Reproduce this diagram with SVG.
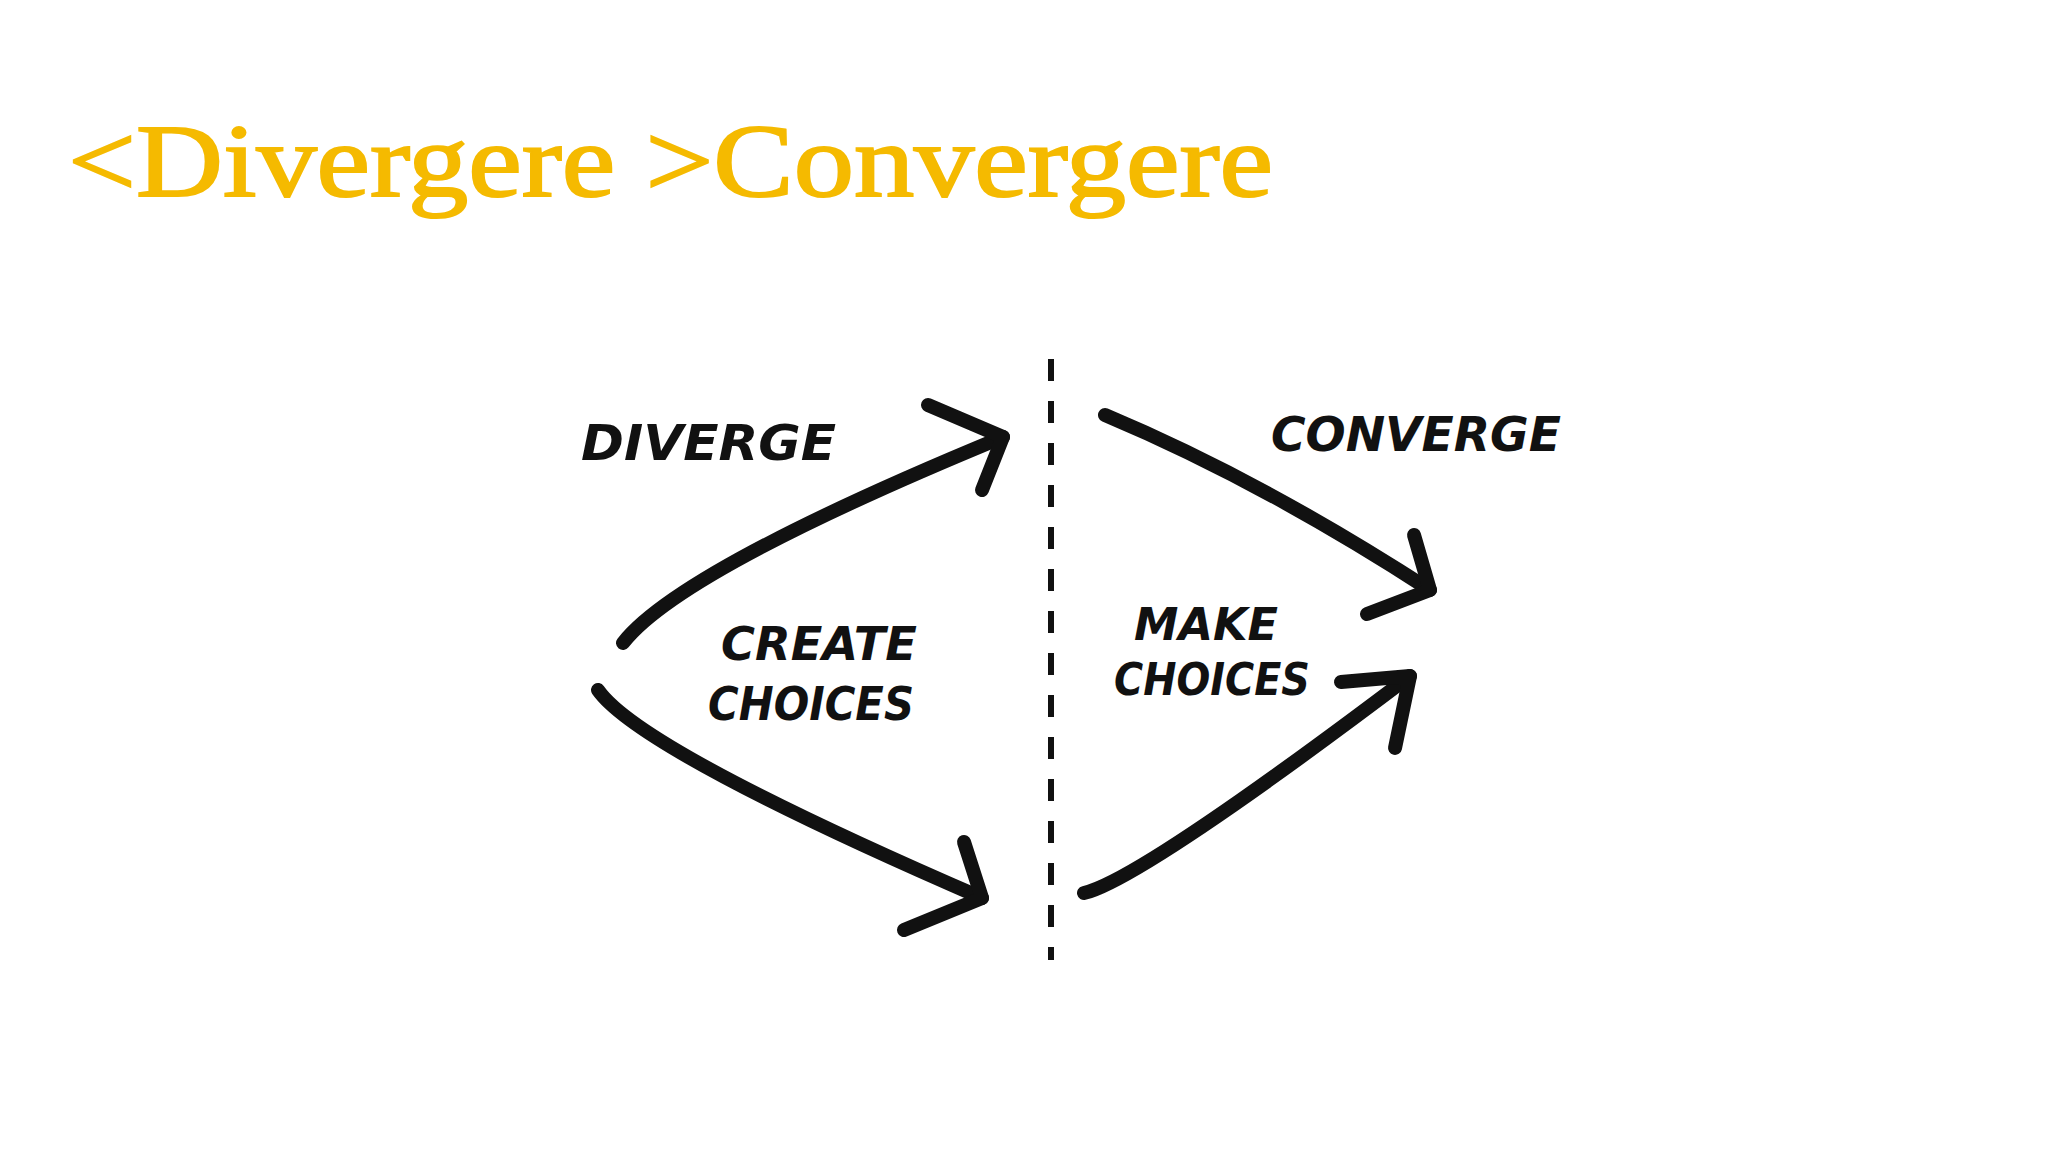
<svg xmlns="http://www.w3.org/2000/svg" width="2048" height="1152" viewBox="0 0 2048 1152">
<style>
.t{font-family:"Liberation Serif",serif;fill:#F5BA00;stroke:#F5BA00;stroke-width:2}
.h{font-family:"DejaVu Sans",sans-serif;font-weight:bold;fill:#111;font-style:italic}
.c{fill:none;stroke:#111;stroke-width:14;stroke-linecap:round;stroke-linejoin:round}
</style>
<rect width="2048" height="1152" fill="#fff"/>
<g id="title"><text class="t" x="68" y="196" font-size="104" textLength="1205" lengthAdjust="spacingAndGlyphs">&lt;Divergere &gt;Convergere</text></g>
<g id="divider"><line x1="1051" y1="359" x2="1051" y2="960" stroke="#111" stroke-width="6" stroke-dasharray="22 20"/></g>
<g id="labels">
<text class="h" x="581" y="460" font-size="50" textLength="255" lengthAdjust="spacingAndGlyphs">DIVERGE</text>
<text class="h" x="1271" y="451" font-size="48" textLength="290" lengthAdjust="spacingAndGlyphs">CONVERGE</text>
<text class="h" x="721" y="660" font-size="46" textLength="196" lengthAdjust="spacingAndGlyphs">CREATE</text>
<text class="h" x="708" y="720" font-size="46" textLength="206" lengthAdjust="spacingAndGlyphs">CHOICES</text>
<text class="h" x="1134" y="640" font-size="44" textLength="144" lengthAdjust="spacingAndGlyphs">MAKE</text>
<text class="h" x="1114" y="695" font-size="44" textLength="196" lengthAdjust="spacingAndGlyphs">CHOICES</text>
</g>
<g id="connectors">
<path class="c" d="M623,643 Q680,570 1003,437"/><path class="c" d="M928,405 L1003,437 L982,490"/>
<path class="c" d="M598,690 Q640,750 982,898"/><path class="c" d="M964,842 L982,898 L904,930"/>
<path class="c" d="M1105,415 Q1260,480 1430,590"/><path class="c" d="M1414,535 L1430,590 L1367,614"/>
<path class="c" d="M1084,893 Q1140,880 1410,676"/><path class="c" d="M1341,682 L1410,676 L1395,748"/>
</g>
</svg>
